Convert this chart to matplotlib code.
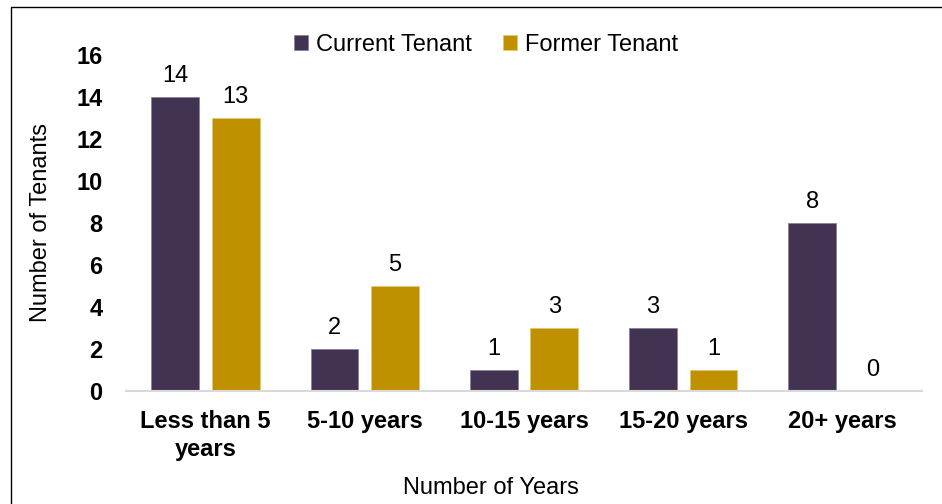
import matplotlib.pyplot as plt
import matplotlib.patches as mpatches
import numpy as np

plt.rcParams['font.family'] = ['Liberation Sans', 'DejaVu Sans']

categories = ['Less than 5\nyears', '5-10 years', '10-15 years', '15-20 years', '20+ years']
current = [14, 2, 1, 3, 8]
former = [13, 5, 3, 1, 0]

purple = '#433352'
gold = '#BF9000'
fs = 17

fig = plt.figure(figsize=(9.42, 5.04), dpi=100)
ax = fig.add_axes([126 / 942, 1 - 391 / 504, (922 - 126) / 942, (391 - 55) / 504])

x = np.arange(len(categories))
w = 0.3
b1 = ax.bar(x - 0.19, current, w, color=purple, edgecolor='#8c8296', linewidth=0.6, label='Current Tenant')
b2 = ax.bar(x + 0.19, former, w, color=gold, edgecolor='#e0c878', linewidth=0.6, label='Former Tenant')

for bars, vals in ((b1, current), (b2, former)):
    for bar, v in zip(bars, vals):
        ax.annotate(str(v), (bar.get_x() + bar.get_width() / 2, v), xytext=(0, 7),
                    textcoords='offset points', ha='center', va='bottom', fontsize=fs)

ax.set_xlim(-0.5, 4.5)
ax.set_ylim(0, 16)
ax.set_yticks(range(0, 17, 2))
ax.set_xticks(x)
ax.set_xticklabels(categories, fontsize=fs, fontweight='bold', linespacing=1.25)
ax.tick_params(axis='y', labelsize=fs, length=0, pad=17)
for lab in ax.get_yticklabels():
    lab.set_fontweight('bold')
ax.tick_params(axis='x', length=0, pad=14)
for s in ('top', 'right', 'left'):
    ax.spines[s].set_visible(False)
ax.spines['bottom'].set_color('#d9d9d9')
ax.spines['bottom'].set_linewidth(1.5)

ax.set_ylabel('Number of Tenants', fontsize=fs, labelpad=17)
fig.text(491 / 942, 1 - 488 / 504, 'Number of Years', fontsize=fs, ha='center', va='center')

fig.legend(handles=[b1, b2], loc='center', bbox_to_anchor=(486 / 942, 1 - 45 / 504), ncol=2,
           frameon=False, fontsize=fs, handlelength=0.6, handleheight=0.6,
           columnspacing=1.3, handletextpad=0.35)

fig.patches.append(mpatches.Rectangle((11 / 942, -0.1), 2, 1 - 7 / 504 + 0.1, transform=fig.transFigure,
                                      fill=False, edgecolor='black', linewidth=1, figure=fig))

fig.savefig('out.png', dpi=100)
